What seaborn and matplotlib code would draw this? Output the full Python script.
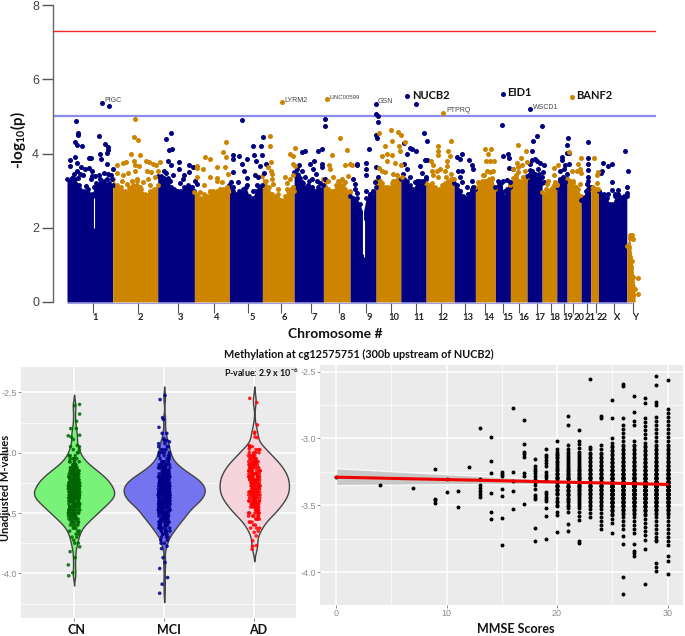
import numpy as np
import pandas as pd
import seaborn as sns
import matplotlib.pyplot as plt

# manhattan data, positions in genome units along the x axis
chroms = ["1","2","3","4","5","6","7","8","9","10","11","12","13","14","15","16","17","18","19","20","21","22","X","Y"]
chrom_sizes = [45.7,45,36.7,35,33,31.7,29.3,26.7,26,24.7,25.3,28,21.3,20,15,16.7,15,14.7,10.3,14,9.7,7.7,28.3,8.3]
chrom_ticks = [25.7,70.7,111.3,147.3,180.7,214,244,272.3,298.7,324,349,374,398,418.3,435.7,451.7,469.7,484.3,496.7,506,520,528.7,546.7,566.3]
chrom_label_pos = [28,73.3,113.7,150,185.3,217,247.7,275,302,327,352.3,376.3,401,421.7,441,457.3,473,488,500.7,512.3,523,535,550.3,569.3]
chrom_tops = [
    [3.3,3.3,3.3,3.15,3.0,3.05,2.9,3.2,3.2,3.25,3.2,3.15],
    [3.3,3.15,3.1,3.0,3.1,3.15,3.25,3.05,2.9,3.0,3.05,3.15],
    [3.4,3.4,3.35,3.35,3.1,3.05,3.0,3.0,3.1,3.15,3.1,3.0],
    [2.95,2.9,2.8,2.9,2.85,2.95,3.0,3.0,3.0,3.05,3.05,3.0],
    [3.15,3.0,2.9,3.0,3.05,3.1,2.85,2.8,3.0,3.1,3.15],
    [3.4,3.25,3.1,2.9,2.85,2.9,2.75,2.85,3.0,3.05,3.0],
    [3.5,3.45,3.35,3.2,3.1,3.25,3.05,3.0,3.1,3.05,3.15],
    [3.3,3.25,3.05,3.0,3.0,3.15,3.25,3.25,3.15,3.05,2.95,2.95],
    [2.85,2.8,2.8,2.65,2.4,2.8,2.85,2.85,3.1],
    [3.25,3.25,3.2,3.1,3.1,3.2,3.25,3.3,3.3],
    [3.3,3.3,3.25,3.15,3.05,3.25,3.25,3.15,3.3],
    [3.2,3.15,3.2,3.1,3.05,3.15,3.2,3.25,3.3,3.3],
    [3.2,3.05,3.0,2.85,2.8,2.9,3.05,3.05],
    [3.1,3.2,3.25,3.25,3.3,3.35,3.05],
    [3.1,3.25,3.2,2.85,3.05,3.1],
    [3.15,3.35,3.35,3.25,3.25,3.35,3.3],
    [3.4,3.55,3.45,3.35,3.45,3.2],
    [2.95,2.9,3.0,3.05,3.15,3.15],
    [3.1,3.25,3.25,3.3],
    [3.3,3.25,3.2,3.1,3.05,2.85],
    [2.75,2.8,3.0,3.25,3.1],
    [3.05,3.1,3.05,3.0],
    [3.0,2.9,2.9,2.8,2.65,2.65,2.85,2.9,2.8,2.85,2.85],
    [1.5,1.8,1.1,0.35],
]
gap_pos = [27.3,296.3,296.8]
gap_low = [2.0,1.3,1.2]
gap_high = [2.8,2.65,2.2]

navy_hits = [
    (34.7,5.36),(41.7,5.28),(9.3,4.87),(11.3,4.55),(11.3,4.51),(7.7,4.30),(10.3,4.23),(15,4.20),(32.3,4.48),(38.3,4.26),(41.3,4.17),(40.7,4.10),(40.3,4.01),(33,3.98),(33.7,3.86),(7.7,3.90),(3.3,3.82),(10.3,3.74),(22.3,3.88),(24.3,3.87),(40,3.71),(3.3,3.65),(14,3.63),(18,3.59),(22.3,3.60),(24.7,3.52),(45.7,3.57),(9.7,3.52),(6.7,3.45),(13,3.45),(16,3.42),(32,3.42),(37,3.48),(41,3.45),(44,3.42),(28,3.40),(33,3.30),(5,3.35),(11,3.33),(24,3.30),(40,3.3),(45,3.32),(19,3.12),(27,3.1),(36,3.2),(25,3.4),
    (103.7,4.55),(99.3,4.39),(105,4.13),(102,4.09),(101.3,3.81),(112,3.78),(122.3,3.70),(104,3.68),(126.3,3.63),(112.3,3.59),(97.3,3.54),(122.3,3.5),(99,3.47),(106.3,3.43),(117,3.43),(115.7,3.32),(128,3.27),(98,3.32),(103,3.27),(113,3.2),(124.7,3.09),(119.7,3.05),(109.7,3.0),(129.7,3.18),
    (174.7,4.91),(196,4.44),(193.7,4.2),(185.7,4.19),(165.7,3.95),(172.3,3.94),(187,3.95),(195.3,3.95),(165.7,3.84),(179.7,3.85),(188.7,3.79),(174.7,3.72),(198.7,3.72),(193,3.66),(177.3,3.53),(166.3,3.5),(197.3,3.48),(188,3.43),(191.3,3.36),(180.3,3.34),(164,3.23),(171.3,3.23),(179.7,3.14),(189.7,3.14),(166.3,3.09),(186.3,3.0),
    (258,4.92),(258,4.74),(255.3,4.11),(250.7,4.06),(234.7,4.04),(237.7,4.06),(247.3,3.80),(243,3.71),(254.7,3.71),(254.7,3.63),(232.3,3.68),(230,3.57),(234.7,3.52),(246.3,3.59),(248.7,3.45),(238,3.38),(258,3.32),(231.3,3.41),(244.7,3.32),(249.7,3.27),(234.7,3.23),(253,3.2),(241.3,3.14),(244.7,3.09),(248,3.0),
    (308.7,5.32),(308.7,5.07),(311.3,5.0),(311.3,4.86),(309,4.5),(309.7,4.42),(302.3,4.13),(289.7,3.72),(299,3.74),(299,3.57),(299,3.41),(309,3.64),(289.7,3.68),(285.7,3.32),(288,3.18),(288,3.05),(311.3,3.36),(308,3.23),(299,2.99),(303,2.91),(306.3,3.0),(289.7,2.93),(301.3,2.78),
    (339.7,5.54),(349.3,5.33),(357.3,4.55),(359.7,4.33),(337,4.29),(343.3,4.14),(345,4.13),(349,4.07),(340,3.99),(337,3.71),(353,3.66),(340,3.58),(354.7,3.47),(343,3.36),(359,3.36),(336.3,3.45),(351.3,3.27),(348,3.23),(358,3.83),(360.3,3.83),(356.3,3.27),
    (389.7,3.91),(395.3,4.0),(393,3.86),(401.7,3.83),(404.7,3.68),(406.3,3.59),(391.3,3.52),(395.3,3.52),(393,3.36),(394.7,3.23),(404.7,3.27),(389.7,3.14),(400.3,3.11),(406.3,3.09),(393,3.0),(401.3,2.91),(404.7,3.0),
    (435.7,5.61),(435.3,4.77),(441.3,4.0),(436.3,3.94),(442,3.88),(442.3,3.6),(445.7,3.59),(432,3.23),(436.3,3.27),(439.7,3.29),(433,3.09),(438,3.0),(443,3.23),(432.3,2.96),
    (463.3,5.19),(474.7,4.74),(469.7,4.48),(465.7,4.33),(465.3,4.08),(464.7,3.83),(469.7,3.81),(468,3.85),(473,3.75),(477,3.7),(463,3.72),(471.3,3.59),(475.7,3.5),(464.7,3.52),(468,3.45),(463,3.45),(474.7,3.36),(477,3.23),(473,3.32),(463,3.27),(466.3,3.27),(469.7,3.23),
    (501.3,4.41),(499.7,4.22),(501.7,4.02),(494.7,3.9),(495.3,3.83),(499.7,4.01),(498,3.7),(502.3,3.72),(493,3.54),(497,3.59),(493,3.32),(495.7,3.36),(499.7,3.45),(498,3.23),(494.7,3.14),
    (520.7,4.31),(521.3,3.88),(520.7,3.72),(521.3,3.56),(521.3,3.36),(519.7,3.18),(521.3,3.05),(518,2.82),(520.3,2.91),
    (558.3,4.06),(560.7,3.54),(536,3.74),(541,3.65),(544.7,3.71),(534.7,3.54),(533.7,3.47),(544.7,3.23),(551.3,3.02),(559.7,3.09),(560.3,2.94),(544.7,3.02),(541.3,2.91),(536.3,2.82),(556.3,2.74),(553,2.82),(548,2.91),
]
gold_hits = [
    (67.7,4.92),(67.3,4.44),(71,4.37),(64.3,4.0),(72.7,3.97),(67,3.81),(49.7,3.70),(55.7,3.75),(59,3.78),(78.7,3.79),(82.3,3.77),(85.7,3.72),(89,3.68),(93,3.78),(68,3.68),(72.3,3.65),(49.7,3.47),(55.7,3.43),(60.7,3.47),(68,3.54),(79.7,3.52),(83.7,3.5),(91.3,3.52),(54.7,3.27),(64.7,3.27),(69.7,3.32),(76.3,3.23),(81.3,3.32),(88,3.36),(59.7,3.17),(73,3.09),(83,3.14),
    (159,4.30),(155.7,4.03),(159,3.90),(138.3,3.91),(143,3.86),(129.7,3.66),(129.7,3.6),(149.7,3.63),(158,3.63),(136.3,3.57),(160.7,3.45),(130.3,3.38),(143,3.36),(150.3,3.34),(154.7,3.23),(137,3.14),(149.7,3.27),(133,2.96),(143,3.0),(153,3.05),(159.7,3.09),(146.3,2.96),
    (214.7,5.38),(202.7,4.47),(202.7,4.2),(228.3,4.14),(223,3.98),(226,3.94),(203.7,3.77),(226.3,3.72),(228,3.66),(201.3,3.63),(203.7,3.54),(204.7,3.45),(225.7,3.43),(204.7,3.32),(218,3.36),(223,3.32),(206.3,3.18),(219.7,3.2),(211.3,3.05),(219.7,3.05),(226.3,3.09),
    (260.3,5.46),(265.3,3.95),(273,4.41),(262,3.70),(263,3.59),(266.3,3.36),(261.3,3.27),(278,3.68),(279.7,4.09),(283,3.72),(284.7,3.70),(281.3,3.39),(274.7,3.32),(278,3.23),(283,3.0),
    (324.3,4.62),(330.7,4.57),(334,4.49),(311.7,4.55),(325.3,4.35),(317.7,4.19),(332.3,4.19),(337.7,4.3),(333,4.06),(320.3,4.0),(325.3,3.97),(315.3,3.94),(319.7,3.8),(328,3.74),(334.3,3.68),(312.3,3.61),(314.7,3.54),(318,3.5),(313,3.27),(326.3,3.45),(329.7,3.41),(326.3,3.27),(334.7,3.36),
    (376,5.09),(384.3,4.35),(371.3,4.2),(370.7,4.08),(370.7,3.96),(381.3,4.07),(382.7,3.93),(379.7,3.79),(363.7,3.8),(366.3,3.68),(373,3.57),(370.3,3.52),(364.7,3.54),(379.7,3.66),(378,3.52),(365.7,3.43),(383.7,3.45),(371.3,3.36),(379,3.36),(385.7,3.32),(379.7,3.18),
    (418.3,4.12),(424,4.12),(421,3.98),(419,3.81),(423,3.81),(426.7,3.81),(420,3.52),(426.3,3.52),(417,3.43),(423,3.5),(411.3,3.23),(416.3,3.41),(419.7,3.27),(424.7,3.32),(415.7,3.18),
    (451.3,4.23),(459.3,4.06),(454.3,3.87),(460.3,3.78),(449.7,3.74),(454.7,3.68),(451.3,3.63),(458,3.54),(446.3,3.59),(449,3.41),(456.3,3.36),(451.3,3.5),(458,3.27),
    (487,3.61),(491.3,3.68),(487.3,3.41),(481.3,3.27),(479.7,3.18),(486.3,3.09),(489.7,3.14),(483,2.96),(479,3.05),(488,3.23),
    (505.3,5.53),(502.3,4.04),(513.7,3.88),(511.3,3.72),(513,3.59),(504.7,3.54),(510.3,3.54),(513.7,3.47),(513,3.18),(506.3,3.27),(503,3.18),(508,3.09),
    (526.7,3.87),(529.7,3.43),(531.3,3.5),(529.7,3.21),(531.3,3.05),
    (571.3,0.65),(571.3,0.21),(564.7,1.81),(565.7,1.7),(563,1.73),(561.7,1.48),(563,1.21),(564,0.94),(565.7,0.67),(566.3,0.4),(566.3,0.18),
]
small_genes = ["PIGC","LYRM2","LINC00599","GSN","PTPRQ","WSCD1"]
small_gene_x = [37.3,217,263,311,379,466]
small_gene_y = [5.42,5.42,5.5,5.4,5.15,5.25]
big_genes = ["NUCB2","EID1","BANF2"]
big_gene_x = [345,440,509.5]
big_gene_y = [5.56,5.65,5.56]

# violin panel, m-values by diagnosis
groups = ["CN","MCI","AD"]
group_widths = [0.89,0.9,0.77]
group_bw = [0.6,0.6,0.7]
cn_tails = [-2.60,-2.61,-2.68,-2.74,-2.80,-2.80,-2.855,-2.86,-2.87,-2.89,-2.94,-2.95,-3.75,-3.78,-3.82,-3.87,-3.93,-3.995,-4.02]
cn_levels = [-2.95,-2.975,-3.0,-3.025,-3.05,-3.075,-3.10,-3.125,-3.15,-3.175,-3.20,-3.225,-3.25,-3.275,-3.30,-3.325,-3.35,-3.375,-3.40,-3.425,-3.45,-3.475,-3.50,-3.525,-3.55,-3.575,-3.60,-3.625,-3.65,-3.675,-3.70,-3.725,-3.75]
cn_counts = [1,2,2,3,4,5,6,8,10,11,13,14,15,16,16,17,18,16,15,14,12,11,10,8,7,6,4,3,3,2,2,1,1]
mci_tails = [-2.525,-2.56,-2.71,-2.725,-2.79,-2.84,-2.84,-2.885,-2.91,-2.95,-3.795,-3.87,-3.91,-3.96,-4.035,-4.09,-4.165]
mci_levels = [-2.90,-2.925,-2.95,-2.975,-3.0,-3.025,-3.05,-3.075,-3.10,-3.125,-3.15,-3.175,-3.20,-3.225,-3.25,-3.275,-3.30,-3.325,-3.35,-3.375,-3.40,-3.425,-3.45,-3.475,-3.50,-3.525,-3.55,-3.575,-3.60,-3.625,-3.65,-3.675,-3.70,-3.725,-3.75,-3.775]
mci_counts = [2,2,2,3,4,4,5,6,8,10,13,15,19,21,23,24,25,25,24,23,22,19,17,15,14,13,11,10,8,7,6,4,3,2,2,1]
ad_tails = [-2.55,-2.585,-2.77,-2.83,-2.84,-2.875,-2.87,-2.94,-2.97,-3.625,-3.66,-3.69,-3.73,-3.775,-3.77,-3.80]
ad_levels = [-2.95,-2.975,-3.0,-3.025,-3.05,-3.075,-3.10,-3.125,-3.15,-3.175,-3.20,-3.225,-3.25,-3.275,-3.30,-3.325,-3.35,-3.375,-3.40,-3.425,-3.45,-3.475,-3.50,-3.525,-3.55,-3.575,-3.60,-3.625,-3.65]
ad_counts = [3,3,4,5,6,7,8,8,9,9,10,10,10,10,10,10,10,9,9,8,7,7,6,5,4,3,2,2,1]

# mmse panel, m-values listed per score
mmse_columns = {
    0: [-3.285],
    4: [-3.35],
    7: [-3.37],
    9: [-3.23,-3.45,-3.46,-3.48],
    10: [-3.30,-3.40],
    11: [-3.39,-3.515],
    12: [-3.21],
    13: [-2.92,-3.30,-3.35,-3.37,-3.39,-3.415,-3.435],
    14: [-2.99,-3.165,-3.26,-3.41,-3.55,-3.60],
    15: [-3.25,-3.265,-3.28,-3.38,-3.43,-3.595,-3.80],
    16: [-2.775,-3.25,-3.315,-3.39,-3.53],
    17: [-2.86,-3.04,-3.10,-3.115,-3.135,-3.26,-3.28,-3.49],
    18: [-3.15,-3.205,-3.225,-3.24,-3.26,-3.28,-3.30,-3.325,-3.35,-3.375,-3.42,-3.44,-3.455,-3.67,-3.765],
    19: [-3.08,-3.125,-3.14,-3.16,-3.18,-3.205,-3.25,-3.27,-3.29,-3.31,-3.40,-3.415,-3.435,-3.455,-3.47,-3.52,-3.58,-3.755],
    20: [-3.02,-3.08,-3.10,-3.12,-3.14,-3.17,-3.19,-3.22,-3.26,-3.29,-3.32,-3.35,-3.38,-3.41,-3.47,-3.50,-3.55,-3.57,-3.70],
    21: [-2.83,-2.90,-3.05,-3.08,-3.10,-3.13,-3.16,-3.19,-3.22,-3.25,-3.28,-3.30,-3.33,-3.36,-3.39,-3.42,-3.45,-3.47,-3.50,-3.52,-3.55,-3.64,-3.69],
    22: [-2.94,-3.02,-3.04,-3.07,-3.10,-3.13,-3.16,-3.19,-3.22,-3.25,-3.28,-3.31,-3.34,-3.37,-3.40,-3.43,-3.46,-3.49,-3.52,-3.55,-3.58,-3.61,-3.77,-3.78],
    23: [-2.555,-3.06,-3.08,-3.11,-3.14,-3.17,-3.20,-3.23,-3.26,-3.29,-3.32,-3.35,-3.38,-3.41,-3.44,-3.47,-3.50,-3.53,-3.56,-3.59],
    24: [-2.83,-2.845,-3.05,-3.08,-3.11,-3.14,-3.17,-3.20,-3.23,-3.26,-3.29,-3.32,-3.35,-3.38,-3.41,-3.44,-3.47,-3.50,-3.53,-3.56,-3.59,-3.62,-3.65,-3.68],
    25: [-2.71,-2.85,-3.0,-3.03,-3.06,-3.09,-3.12,-3.15,-3.18,-3.21,-3.24,-3.27,-3.30,-3.33,-3.36,-3.39,-3.42,-3.45,-3.48,-3.51,-3.54,-3.57,-3.60,-3.63,-3.71],
    26: [-2.59,-2.61,-2.845,-2.90,-2.93,-2.96,-2.99,-3.02,-3.05,-3.08,-3.11,-3.14,-3.17,-3.20,-3.23,-3.26,-3.29,-3.32,-3.35,-3.38,-3.41,-3.44,-3.47,-3.50,-3.53,-3.56,-3.59,-3.62,-3.65,-3.68,-3.73,-3.79,-4.04,-4.165],
    27: [-2.68,-2.80,-2.87,-2.90,-3.02,-3.05,-3.08,-3.11,-3.14,-3.17,-3.20,-3.23,-3.26,-3.29,-3.32,-3.35,-3.38,-3.41,-3.44,-3.47,-3.50,-3.53,-3.56,-3.59,-3.62,-3.65,-3.68,-3.71,-3.79,-3.84,-3.86,-3.88],
    28: [-2.70,-2.735,-2.85,-2.88,-2.91,-2.94,-2.97,-3.0,-3.03,-3.06,-3.09,-3.12,-3.15,-3.18,-3.21,-3.24,-3.27,-3.30,-3.33,-3.36,-3.39,-3.42,-3.45,-3.48,-3.51,-3.54,-3.57,-3.60,-3.63,-3.66,-3.69,-3.72,-3.76,-3.83,-4.09],
    29: [-2.53,-2.60,-2.725,-2.75,-2.84,-2.87,-2.90,-2.93,-2.96,-2.99,-3.02,-3.05,-3.08,-3.11,-3.14,-3.17,-3.20,-3.23,-3.26,-3.29,-3.32,-3.35,-3.38,-3.41,-3.44,-3.47,-3.50,-3.53,-3.56,-3.59,-3.62,-3.65,-3.68,-3.71,-3.74,-3.76,-3.77,-3.93,-3.96,-3.995],
    30: [-2.56,-2.78,-2.81,-2.84,-2.87,-2.90,-2.93,-2.96,-2.99,-3.02,-3.05,-3.08,-3.11,-3.14,-3.17,-3.20,-3.23,-3.26,-3.29,-3.32,-3.35,-3.38,-3.41,-3.44,-3.47,-3.50,-3.53,-3.56,-3.59,-3.62,-3.65,-3.68,-3.71,-3.74,-3.77,-3.80,-3.88,-3.92,-4.015],
}
# overplotted subjects in the crowded columns
crowd_levels = [-3.055,-3.085,-3.115,-3.145,-3.175,-3.205,-3.235,-3.265,-3.295,-3.325,-3.355,-3.385,-3.415,-3.445,-3.475,-3.505,-3.535,-3.565]
crowd_high = [1,1,1,1,2,2,3,4,5,7,9,9,9,7,5,3,2,1]
crowd_mid = [0,0,1,1,1,1,2,2,3,3,3,2,2,1,1,1,0,0]
crowd_high_scores = [25,26,27,28,29,30]
crowd_mid_scores = [20,21,22,23,24]

NAVY = "#000080"
GOLD = "#CD8500"
BOLD_FONT = "Lato"

sns.set_theme(style="white")
plt.rcParams["font.family"] = ["Liberation Sans", "DejaVu Sans"]
plt.rcParams["mathtext.fontset"] = "custom"
plt.rcParams["mathtext.rm"] = "Lato"
plt.rcParams["mathtext.bf"] = "Lato:bold"
plt.rcParams["mathtext.default"] = "bf"
np.random.seed(4)

W, H = 685, 636
fig = plt.figure(figsize=(W / 100, H / 100), dpi=100)


def px_axes(left, top, right, bottom):
    return fig.add_axes([left / W, 1 - bottom / H, (right - left) / W, (bottom - top) / H])


def gg_style(ax, x_major, x_minor, y_major, y_minor):
    ax.set_facecolor("#EBEBEB")
    for s in ax.spines.values():
        s.set_visible(False)
    ax.set_axisbelow(True)
    ax.set_xticks(x_major)
    ax.set_xticks(x_minor, minor=True)
    ax.set_yticks(y_major)
    ax.set_yticks(y_minor, minor=True)
    ax.grid(True, which="major", color="white", lw=1.1)
    ax.grid(True, which="minor", color="white", lw=0.5)
    ax.tick_params(which="minor", length=0)
    ax.tick_params(which="major", length=2, width=0.6, color="#777777", labelcolor="#8a8a8a", labelsize=6.5, pad=1,
                   bottom=True, left=True)


# top panel
ax = px_axes(53, 5, 656, 302)
edges = np.concatenate([[0], np.cumsum(chrom_sizes)])
for i, tops in enumerate(chrom_tops):
    xs = np.linspace(edges[i], edges[i + 1], len(tops))
    color = NAVY if i % 2 == 0 else GOLD
    ax.fill_between(xs, 0, tops, color=color, lw=0, zorder=2)
    sns.scatterplot(x=xs, y=tops, color=color, s=12, linewidth=0, ax=ax, zorder=3)
ax.vlines(gap_pos, gap_low, gap_high, color="white", lw=0.8, zorder=3.5)
ax.hlines(-0.03, 0, edges[-1] - 3, color="#9C9CE8", lw=0.8, clip_on=False, zorder=1)

navy_df = pd.DataFrame(navy_hits, columns=["pos", "logp"])
gold_df = pd.DataFrame(gold_hits, columns=["pos", "logp"])
sns.scatterplot(data=navy_df, x="pos", y="logp", color=NAVY, s=13, linewidth=0, ax=ax, zorder=4)
sns.scatterplot(data=gold_df, x="pos", y="logp", color=GOLD, s=13, linewidth=0, ax=ax, zorder=4)

ax.axhline(7.3, color="#F02828", lw=1, zorder=5)
ax.axhline(5, color="#8C8CF0", lw=1.6, zorder=1)

for name, gx, gy in zip(small_genes, small_gene_x, small_gene_y):
    ax.text(gx, gy, name, fontsize=5 if name != "LINC00599" else 4.3, color="#444444", va="center")
for name, gx, gy in zip(big_genes, big_gene_x, big_gene_y):
    ax.text(gx, gy, name, fontsize=8, color="#111111", family=BOLD_FONT, weight="bold", va="center")

ax.set_xlim(-14, 589)
ax.set_ylim(0, 8)
ax.set_xticks(chrom_ticks)
ax.set_xticklabels([])
for name, lx in zip(chroms, chrom_label_pos):
    ax.text(lx, -0.43, name, fontsize=6.8, weight="bold", color="#222222", family=BOLD_FONT, ha="center", va="center")
ax.set_yticks([0, 2, 4, 6, 8])
ax.tick_params(axis="y", length=8, width=1, color="#555555", labelcolor="#444444", labelsize=9, pad=2, left=True)
ax.tick_params(axis="x", length=8, width=0.8, color="#555555", pad=3, bottom=True)
sns.despine(ax=ax, top=True, right=True, bottom=True)
ax.spines["left"].set_color("#666666")
ax.spines["left"].set_linewidth(1)
ax.set_xlabel("")
ax.set_ylabel("")
fig.text(18 / W, 1 - 140 / H, "-log$_{10}$(p)", rotation=90, fontsize=11, family=BOLD_FONT, weight="bold",
         color="#111111", ha="center", va="center")
fig.text(335 / W, 1 - 334 / H, "Chromosome #", fontsize=10, family=BOLD_FONT, weight="bold", color="#111111",
         ha="center", va="center")

# violin panel
vio = px_axes(21, 367, 296, 618)
vio_df = pd.concat([
    pd.DataFrame({"group": "CN", "m": np.concatenate([cn_tails, np.repeat(cn_levels, cn_counts)])}),
    pd.DataFrame({"group": "MCI", "m": np.concatenate([mci_tails, np.repeat(mci_levels, mci_counts)])}),
    pd.DataFrame({"group": "AD", "m": np.concatenate([ad_tails, np.repeat(ad_levels, ad_counts)])}),
])
fills = {"CN": "#78F278", "MCI": "#7474F0", "AD": "#F5D5DB"}
dots = {"CN": "#006400", "MCI": "#00008B", "AD": "#FF0000"}
for name, vw, bw in zip(groups, group_widths, group_bw):
    sns.violinplot(data=vio_df[vio_df["group"] == name], x="group", y="m", order=groups, color=fills[name], inner=None,
                   density_norm="width", width=vw, cut=2, bw_adjust=bw, linewidth=1, linecolor="#444444",
                   saturation=1, ax=vio)
sns.stripplot(data=vio_df, x="group", y="m", hue="group", order=groups, palette=dots, jitter=0.065, size=2.6,
              linewidth=0, alpha=0.85, legend=False, ax=vio)
gg_style(vio, [0, 1, 2], [], [-2.5, -3.0, -3.5, -4.0], [-2.75, -3.25, -3.75, -4.25])
vio.set_xticklabels([])
vio.set_yticklabels(["-2.5", "-3.0", "-3.5", "-4.0"])
vio.set_xlim(-0.589, 2.463)
vio.set_ylim(-4.37, -2.29)
vio.set_xlabel("")
vio.set_ylabel("")
for name, cx in zip(groups, [77, 169, 258]):
    fig.text(cx / W, 1 - 630 / H, name, fontsize=9, family=BOLD_FONT, weight="bold", color="#111111",
             ha="center", va="center")
fig.text(6 / W, 1 - 488 / H, "Unadjusted M-values", rotation=90, fontsize=8, family=BOLD_FONT, weight="bold",
         color="#111111", ha="center", va="center")
fig.text(224 / W, 1 - 354 / H, "Methylation at cg12575751 (300b upstream of NUCB2)", fontsize=7.8,
         family=BOLD_FONT, weight="bold", color="#111111", va="center")
fig.text(224 / W, 1 - 372.5 / H, "P-value: 2.9 x 10$^{-6}$", fontsize=6.4, family=BOLD_FONT, weight="bold",
         color="#111111", va="center")

# mmse regression panel
reg = px_axes(320, 365, 683, 605)
mmse_scores = [s for s, vals in mmse_columns.items() for _ in vals]
mmse_values = [v for vals in mmse_columns.values() for v in vals]
for score in crowd_high_scores:
    extra = np.repeat(crowd_levels, crowd_high)
    mmse_scores += [score] * len(extra)
    mmse_values += list(extra)
for score in crowd_mid_scores:
    extra = np.repeat(crowd_levels, crowd_mid)
    mmse_scores += [score] * len(extra)
    mmse_values += list(extra)
sns.regplot(x=mmse_scores, y=mmse_values, ax=reg, seed=3, n_boot=300,
            scatter_kws={"s": 8, "color": "black", "linewidths": 0, "alpha": 1, "zorder": 3},
            line_kws={"color": "#F00000", "lw": 2.2, "zorder": 5})
reg.collections[-1].set_facecolor("#BEBEBE")
reg.collections[-1].set_alpha(0.8)
reg.collections[-1].set_zorder(2)
gg_style(reg, [0, 10, 20, 30], [5, 15, 25], [-2.5, -3.0, -3.5, -4.0], [-2.75, -3.25, -3.75])
reg.set_xticklabels(["0", "10", "20", "30"])
reg.set_yticklabels(["-2.5", "-3.0", "-3.5", "-4.0"])
reg.set_xlim(-1.45, 31.4)
reg.set_ylim(-4.246, -2.45)
reg.set_xlabel("")
reg.set_ylabel("")
fig.text(516 / W, 1 - 629 / H, "MMSE Scores", fontsize=9, family=BOLD_FONT, weight="bold", color="#111111",
         ha="center", va="center")

fig.savefig("out.png", dpi=100, facecolor="white")
